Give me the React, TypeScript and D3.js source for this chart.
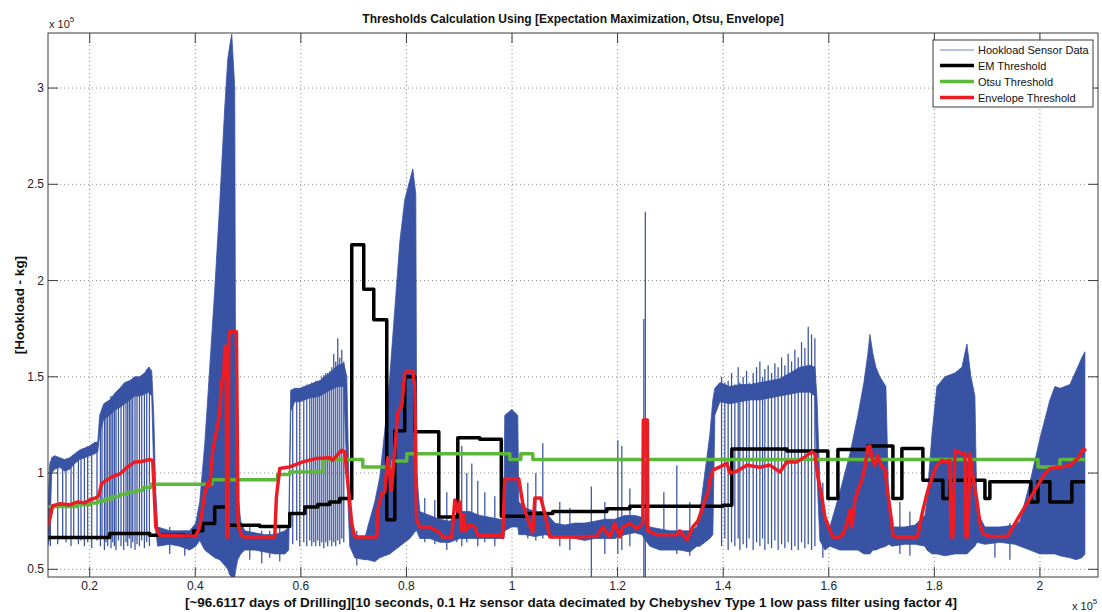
import React from "react";
import * as d3 from "d3";

// ---------- axis ticks ----------
const xTicks = [0.2, 0.4, 0.6, 0.8, 1, 1.2, 1.4, 1.6, 1.8, 2];
const xTickLabels = ["0.2", "0.4", "0.6", "0.8", "1", "1.2", "1.4", "1.6", "1.8", "2"];
const yTicks = [0.5, 1, 1.5, 2, 2.5, 3];
const yTickLabels = ["0.5", "1", "1.5", "2", "2.5", "3"];

// ---------- Hookload sensor data (x 1e5 samples, kg x 1e5): dense band lower / upper ----------
const sensorX = [0.1204, 0.1242, 0.128, 0.1337, 0.1432, 0.1526, 0.1621, 0.1716, 0.1811, 0.1905, 0.2, 0.2095, 0.2152, 0.2189, 0.2265, 0.2379, 0.2493, 0.2568, 0.2663, 0.2758, 0.2853, 0.2947, 0.3042, 0.3118, 0.3175, 0.3213, 0.3251, 0.3288, 0.3516, 0.3705, 0.3895, 0.4008, 0.4084, 0.4179, 0.4274, 0.4368, 0.4463, 0.4558, 0.4615, 0.4653, 0.4691, 0.4728, 0.4747, 0.4766, 0.4804, 0.4861, 0.4937, 0.5126, 0.5316, 0.5505, 0.5695, 0.577, 0.5808, 0.5884, 0.5979, 0.6168, 0.6358, 0.6547, 0.6699, 0.6813, 0.687, 0.6926, 0.7021, 0.721, 0.7267, 0.74, 0.7495, 0.7589, 0.7684, 0.7779, 0.7874, 0.7968, 0.8063, 0.812, 0.8177, 0.8196, 0.8253, 0.8442, 0.8632, 0.8821, 0.901, 0.92, 0.9389, 0.9579, 0.9768, 0.9844, 0.9863, 0.9996, 1.0109, 1.0128, 1.0242, 1.0432, 1.0621, 1.081, 1.1, 1.1189, 1.1379, 1.1568, 1.1758, 1.1947, 1.2137, 1.2326, 1.2459, 1.261, 1.28, 1.2989, 1.3179, 1.3368, 1.3501, 1.3558, 1.3653, 1.3747, 1.3804, 1.3842, 1.3937, 1.4126, 1.4316, 1.4505, 1.4695, 1.4884, 1.5074, 1.5263, 1.5452, 1.5642, 1.5737, 1.5775, 1.5831, 1.5926, 1.6021, 1.621, 1.64, 1.6552, 1.6665, 1.6741, 1.6779, 1.6836, 1.6893, 1.6968, 1.7082, 1.7139, 1.7196, 1.7442, 1.7632, 1.7821, 1.7859, 1.7954, 1.8048, 1.82, 1.839, 1.8522, 1.8617, 1.8693, 1.8768, 1.8806, 1.8958, 1.9242, 1.9526, 1.9621, 1.981, 2.0, 2.0189, 2.0284, 2.0379, 2.0568, 2.0682, 2.0795, 2.0852];
const sensorLo = [0.62, 0.66, 1.0, 1.02, 1.03, 1.01, 1.02, 1.05, 1.07, 1.08, 1.09, 1.1, 1.11, 1.2, 1.28, 1.3, 1.33, 1.34, 1.36, 1.38, 1.4, 1.4, 1.41, 1.42, 1.4, 1.0, 0.7, 0.62, 0.63, 0.62, 0.6, 0.62, 0.65, 0.6, 0.58, 0.56, 0.55, 0.52, 0.5, 0.47, 0.46, 0.46, 0.46, 0.5, 0.55, 0.58, 0.6, 0.6, 0.59, 0.58, 0.58, 0.6, 1.32, 1.37, 1.37, 1.39, 1.4, 1.43, 1.45, 1.45, 1.0, 0.62, 0.56, 0.55, 0.55, 0.54, 0.56, 0.57, 0.58, 0.6, 0.62, 0.64, 0.66, 0.68, 0.7, 0.7, 0.66, 0.66, 0.64, 0.64, 0.66, 0.66, 0.66, 0.66, 0.66, 0.66, 0.7, 0.72, 0.72, 0.68, 0.68, 0.67, 0.68, 0.67, 0.67, 0.66, 0.65, 0.66, 0.66, 0.66, 0.68, 0.69, 0.68, 0.62, 0.6, 0.6, 0.6, 0.59, 0.62, 0.62, 0.64, 0.66, 0.68, 1.3, 1.37, 1.36, 1.37, 1.38, 1.38, 1.39, 1.4, 1.41, 1.42, 1.42, 1.4, 1.0, 0.65, 0.6, 0.62, 0.6, 0.6, 0.6, 0.58, 0.58, 0.58, 0.6, 0.6, 0.61, 0.62, 0.63, 0.62, 0.63, 0.63, 0.62, 0.6, 0.58, 0.58, 0.57, 0.58, 0.58, 0.58, 0.6, 0.62, 0.64, 0.63, 0.64, 0.63, 0.62, 0.6, 0.58, 0.58, 0.58, 0.57, 0.56, 0.55, 0.56, 0.58];
const sensorHi = [0.8, 1.04, 1.08, 1.09, 1.08, 1.07, 1.08, 1.1, 1.12, 1.13, 1.14, 1.16, 1.16, 1.3, 1.36, 1.38, 1.42, 1.44, 1.47, 1.48, 1.5, 1.5, 1.52, 1.55, 1.53, 1.3, 0.9, 0.72, 0.7, 0.7, 0.7, 0.74, 0.85, 1.15, 1.55, 1.95, 2.4, 2.9, 3.15, 3.22, 3.28, 3.1, 3.0, 1.2, 0.9, 0.75, 0.7, 0.69, 0.68, 0.68, 0.7, 0.72, 1.43, 1.44, 1.44, 1.46, 1.48, 1.52, 1.56, 1.57, 1.5, 0.75, 0.68, 0.66, 0.72, 0.85, 0.98, 1.22, 1.5, 1.85, 2.2, 2.42, 2.52, 2.58, 2.45, 1.0, 0.8, 0.78, 0.76, 0.75, 0.8, 0.8, 0.78, 0.77, 0.76, 0.76, 1.3, 1.33, 1.3, 0.85, 0.82, 0.8, 0.8, 0.74, 0.73, 0.74, 0.74, 0.75, 0.76, 0.76, 0.78, 0.78, 0.77, 0.72, 0.71, 0.7, 0.7, 0.7, 0.72, 0.8, 1.0, 1.2, 1.38, 1.44, 1.47, 1.45, 1.46, 1.46, 1.47, 1.48, 1.49, 1.52, 1.55, 1.56, 1.55, 1.4, 0.95, 0.75, 0.72, 0.9, 1.1, 1.3, 1.47, 1.62, 1.72, 1.62, 1.55, 1.5, 1.45, 0.8, 0.72, 0.72, 0.73, 0.78, 0.85, 1.2, 1.45, 1.5, 1.52, 1.55, 1.67, 1.5, 1.4, 0.8, 0.72, 0.72, 0.73, 0.75, 0.95, 1.18, 1.38, 1.45, 1.44, 1.46, 1.53, 1.6, 1.63];

// ---------- Hookload sensor data: individual excursions (x, bottom, top) ----------
const spikeX = [0.1255, 0.1394, 0.1488, 0.1551, 0.1646, 0.1697, 0.1786, 0.1835, 0.19, 0.1962, 0.2038, 0.2138, 0.2203, 0.2233, 0.2279, 0.2309, 0.2341, 0.2379, 0.2404, 0.2436, 0.2468, 0.2498, 0.2544, 0.2593, 0.2644, 0.2688, 0.272, 0.2752, 0.2783, 0.2815, 0.2858, 0.2896, 0.2942, 0.2985, 0.3036, 0.308, 0.3131,
  0.3516, 0.38, 0.5032, 0.5259, 0.541, 0.56,
  0.5846, 0.5922, 0.5979, 0.6055, 0.6112, 0.6168, 0.6206, 0.6244, 0.6282, 0.632, 0.6358, 0.6396, 0.6434, 0.6472, 0.6509, 0.6547, 0.6585, 0.6623, 0.6661, 0.6699, 0.6737, 0.6775, 0.6813, 0.7059,
  0.8347, 0.8537, 0.8764, 0.8954, 0.9048, 0.9143, 0.9238, 0.9351, 0.9484, 0.9674, 1.0299, 1.0451, 1.0583, 1.0905, 1.1095, 1.1502, 1.1758, 1.2004, 1.208, 1.2232, 1.2497, 1.2525, 1.2876, 1.3122, 1.3368,
  1.3969, 1.4031, 1.4094, 1.4158, 1.4221, 1.4284, 1.4316, 1.4378, 1.4443, 1.4492, 1.4568, 1.4632, 1.4695, 1.4746, 1.4789, 1.4852, 1.4916, 1.4979, 1.5041, 1.5106, 1.5168, 1.5231, 1.5295, 1.5358, 1.5421, 1.5484, 1.5547, 1.5611, 1.5674, 1.5737,
  1.5888, 1.7347, 1.7537, 1.9147, 1.9431];
const spikeLo = [0.62, 0.63, 0.66, 0.64, 0.62, 0.66, 0.63, 0.65, 0.62, 0.64, 0.61, 0.65, 0.62, 0.66, 0.6, 0.64, 0.62, 0.66, 0.61, 0.64, 0.62, 0.6, 0.65, 0.62, 0.6, 0.64, 0.62, 0.66, 0.61, 0.64, 0.6, 0.63, 0.62, 0.65, 0.61, 0.64, 0.62,
  0.58, 0.57, 0.55, 0.53, 0.56, 0.54,
  0.63, 0.65, 0.62, 0.64, 0.62, 0.65, 0.62, 0.64, 0.62, 0.65, 0.62, 0.64, 0.61, 0.64, 0.62, 0.65, 0.62, 0.64, 0.62, 0.65, 0.63, 0.66, 0.64, 0.52,
  0.64, 0.63, 0.6, 0.64, 0.62, 0.64, 0.66, 0.62, 0.64, 0.62, 0.66, 0.65, 0.66, 0.62, 0.6, 0.46, 0.58, 0.58, 0.6, 0.62, 0.46, 0.46, 0.6, 0.58, 0.57,
  0.62, 0.66, 0.6, 0.64, 0.62, 0.66, 0.6, 0.63, 0.61, 0.66, 0.6, 0.64, 0.62, 0.66, 0.6, 0.63, 0.61, 0.65, 0.6, 0.63, 0.61, 0.64, 0.6, 0.62, 0.6, 0.64, 0.61, 0.63, 0.6, 0.62,
  0.56, 0.58, 0.57, 0.56, 0.55];
const spikeHi = [1.06, 1.08, 1.07, 1.07, 1.08, 1.09, 1.11, 1.12, 1.13, 1.14, 1.15, 1.16, 1.3, 1.33, 1.35, 1.36, 1.37, 1.38, 1.4, 1.4, 1.41, 1.42, 1.43, 1.44, 1.46, 1.47, 1.47, 1.48, 1.48, 1.49, 1.5, 1.5, 1.5, 1.51, 1.52, 1.54, 1.55,
  0.72, 0.7, 0.72, 0.7, 0.7, 0.72,
  1.43, 1.44, 1.44, 1.45, 1.46, 1.46, 1.47, 1.47, 1.48, 1.48, 1.48, 1.5, 1.51, 1.52, 1.52, 1.53, 1.55, 1.62, 1.58, 1.7, 1.6, 1.64, 1.58, 0.7,
  0.87, 0.86, 0.9, 1.08, 1.14, 1.0, 1.05, 0.96, 0.9, 0.88, 0.95, 1.0, 1.155, 0.85, 0.82, 0.93, 0.85, 1.17, 1.14, 0.92, 1.8, 2.357, 0.9, 1.04, 0.85,
  1.5, 1.47, 1.48, 1.52, 1.46, 1.55, 1.47, 1.5, 1.53, 1.47, 1.52, 1.55, 1.58, 1.5, 1.54, 1.56, 1.52, 1.57, 1.55, 1.6, 1.56, 1.62, 1.58, 1.64, 1.6, 1.68, 1.65, 1.76, 1.72, 1.7,
  0.95, 0.85, 0.8, 0.72, 0.74];

// ---------- EM threshold (step, value holds until next x) ----------
const emX = [0.1204, 0.2379, 0.3137, 0.38, 0.397, 0.4141, 0.4368, 0.4615, 0.5221, 0.5789, 0.6074, 0.632, 0.6547, 0.6737, 0.6964, 0.7191, 0.7381, 0.7627, 0.7779, 0.7968, 0.8158, 0.8613, 0.8973, 0.9389, 0.9797, 1.028, 1.0773, 1.1796, 1.2232, 1.3994, 1.4164, 1.5206, 1.5983, 1.6173, 1.6741, 1.7215, 1.7385, 1.7783, 1.8162, 1.8295, 1.8958, 1.9052, 1.9829, 1.9962, 2.0189, 2.0606, 2.0852];
const emY = [0.665, 0.686, 0.677, 0.672, 0.7, 0.738, 0.824, 0.729, 0.722, 0.79, 0.824, 0.836, 0.85, 0.868, 2.186, 1.955, 1.797, 0.758, 1.22, 1.5, 1.214, 0.772, 1.183, 1.175, 0.776, 0.79, 0.8, 0.815, 0.828, 0.833, 1.125, 1.115, 0.868, 1.122, 1.14, 0.868, 1.128, 0.963, 0.868, 0.963, 0.868, 0.955, 0.85, 0.955, 0.85, 0.955, 0.955];

// ---------- Otsu threshold (step) ----------
const otsuX = [0.1204, 0.1773, 0.2, 0.2152, 0.2284, 0.2417, 0.2568, 0.272, 0.2872, 0.3004, 0.3156, 0.4312, 0.5562, 0.5789, 0.6415, 0.7173, 0.7741, 0.8006, 0.9958, 1.0166, 1.0394, 1.9962, 2.0379, 2.0852];
const otsuY = [0.826, 0.835, 0.845, 0.855, 0.865, 0.878, 0.89, 0.9, 0.91, 0.925, 0.942, 0.965, 0.993, 1.005, 1.07, 1.032, 1.062, 1.1, 1.07, 1.1, 1.07, 1.032, 1.07, 1.07];

// ---------- Envelope threshold ----------
const envX = [0.1204, 0.1242, 0.1299, 0.1432, 0.1621, 0.1773, 0.1905, 0.2, 0.2152, 0.2189, 0.2227, 0.2417, 0.2568, 0.272, 0.2853, 0.2985, 0.3137, 0.3194, 0.3251, 0.3326, 0.4008, 0.4084, 0.4179, 0.4236, 0.4274, 0.433, 0.4406, 0.4463, 0.4495, 0.4539, 0.4558, 0.4586, 0.4596, 0.4624, 0.4634, 0.4653, 0.4779, 0.481, 0.4874, 0.4937, 0.5505, 0.5537, 0.56, 0.5789, 0.6036, 0.6301, 0.6547, 0.6604, 0.6775, 0.6832, 0.6889, 0.6964, 0.7021, 0.7438, 0.7457, 0.7533, 0.7589, 0.7646, 0.7716, 0.7779, 0.7836, 0.7912, 0.7968, 0.8006, 0.812, 0.8158, 0.819, 0.8253, 0.8442, 0.8632, 0.8688, 0.8859, 0.8916, 0.8973, 0.901, 0.9048, 0.9086, 0.9124, 0.92, 0.9295, 0.9351, 0.9768, 0.9825, 0.9863, 1.0128, 1.0204, 1.0299, 1.0394, 1.0432, 1.0545, 1.0621, 1.0716, 1.1227, 1.1606, 1.172, 1.1853, 1.1947, 1.2042, 1.2099, 1.2232, 1.2364, 1.2478, 1.2487, 1.2563, 1.2572, 1.2743, 1.3122, 1.3179, 1.3312, 1.3368, 1.3425, 1.352, 1.3596, 1.3653, 1.371, 1.3747, 1.3804, 1.3937, 1.4069, 1.4126, 1.4259, 1.4448, 1.4695, 1.4884, 1.5074, 1.5206, 1.5396, 1.5547, 1.568, 1.5737, 1.5794, 1.5869, 1.5926, 1.6021, 1.6078, 1.621, 1.6267, 1.6343, 1.64, 1.6438, 1.6495, 1.6552, 1.6628, 1.6684, 1.6741, 1.6779, 1.6817, 1.6874, 1.6931, 1.7006, 1.7063, 1.712, 1.7196, 1.7215, 1.7291, 1.767, 1.7689, 1.7783, 1.7878, 1.7973, 1.8048, 1.8143, 1.82, 1.8295, 1.8314, 1.8352, 1.839, 1.8522, 1.8579, 1.8598, 1.8636, 1.8674, 1.8731, 1.8806, 1.8863, 1.892, 1.9052, 1.9375, 1.9431, 1.9564, 1.9754, 1.9943, 2.0095, 2.0189, 2.0379, 2.0568, 2.072, 2.0814, 2.0852];
const envY = [0.72, 0.76, 0.83, 0.84, 0.835, 0.85, 0.845, 0.86, 0.875, 0.9, 0.946, 0.98, 0.995, 1.032, 1.058, 1.06, 1.07, 1.065, 0.72, 0.677, 0.672, 0.72, 0.894, 0.95, 0.93, 1.119, 1.223, 1.31, 1.474, 1.5, 1.656, 1.66, 0.668, 0.668, 1.7, 1.734, 1.734, 0.738, 0.677, 0.668, 0.668, 0.876, 1.024, 1.032, 1.058, 1.076, 1.08, 1.067, 1.119, 1.11, 0.95, 0.738, 0.668, 0.668, 0.807, 0.894, 0.9, 1.08, 0.91, 1.119, 1.315, 1.35, 1.518, 1.53, 1.53, 1.45, 0.76, 0.72, 0.72, 0.69, 0.668, 0.668, 0.86, 0.8, 0.85, 0.7, 0.78, 0.7, 0.73, 0.72, 0.677, 0.677, 0.665, 0.97, 0.97, 0.842, 0.76, 0.69, 0.87, 0.87, 0.79, 0.668, 0.668, 0.672, 0.72, 0.668, 0.738, 0.668, 0.72, 0.738, 0.71, 0.74, 1.275, 1.275, 0.7, 0.68, 0.68, 0.7, 0.651, 0.686, 0.72, 0.75, 0.807, 0.859, 0.894, 0.963, 1.015, 1.032, 1.05, 1.0, 1.01, 1.04, 1.03, 1.041, 1.006, 1.058, 1.058, 1.084, 1.11, 1.1, 0.98, 0.876, 0.772, 0.703, 0.668, 0.668, 0.68, 0.738, 0.807, 0.72, 0.859, 0.911, 0.963, 1.032, 1.136, 1.14, 1.08, 1.04, 1.09, 1.032, 1.02, 0.894, 0.738, 0.675, 0.668, 0.668, 0.68, 0.807, 0.911, 0.989, 1.04, 1.067, 1.06, 1.067, 0.668, 0.668, 1.119, 1.1, 1.1, 0.668, 0.668, 1.1, 0.98, 0.859, 0.738, 0.686, 0.67, 0.67, 0.69, 0.755, 0.842, 0.928, 0.998, 1.024, 1.03, 1.04, 1.076, 1.122, 1.12];

const legendLabels = ["Hookload Sensor Data", "EM Threshold", "Otsu Threshold", "Envelope Threshold"];
const legendColors = ["#3953a4", "#000000", "#5cb83a", "#ec1c24"];

const W = 1102;
const H = 612;
const L = 48, R = 1098, T = 33, B = 577;
const FONT = "'Liberation Sans', Arial, Helvetica, sans-serif";

export default function App() {
  const x = d3.scaleLinear().domain([0.121, 2.11]).range([L, R]);
  const y = d3.scaleLinear().domain([0.46, 3.286]).range([B, T]);

  const idx = (n: number) => d3.range(n);

  const band = d3
    .area<number>()
    .x((i) => x(sensorX[i]))
    .y0((i) => y(sensorLo[i]))
    .y1((i) => y(sensorHi[i]))(idx(sensorX.length)) as string;

  const emPath = d3
    .line<number>()
    .x((i) => x(emX[i]))
    .y((i) => y(emY[i]))
    .curve(d3.curveStepAfter)(idx(emX.length)) as string;

  const otsuPath = d3
    .line<number>()
    .x((i) => x(otsuX[i]))
    .y((i) => y(otsuY[i]))
    .curve(d3.curveStepAfter)(idx(otsuX.length)) as string;

  const envPath = d3
    .line<number>()
    .x((i) => x(envX[i]))
    .y((i) => y(envY[i]))(idx(envX.length)) as string;

  const tickLen = 10;
  const axisColor = "#3c3c3c";
  const gridColor = "#8a8a8a";
  const blue = "#3953a4";

  const legX = 933, legY = 40, legW = 160, legH = 67;
  const legRows = [50, 65.5, 81.5, 97.5];

  return (
    <div style={{ position: "absolute", left: 0, top: 0, width: W, height: H, background: "#fff" }}>
      <svg width={W} height={H} style={{ display: "block" }} fontFamily={FONT}>
        <rect x={0} y={0} width={W} height={H} fill="#fff" />
        <defs>
          <clipPath id="plotClip">
            <rect x={L} y={T} width={R - L} height={B - T} />
          </clipPath>
        </defs>

        {/* grid */}
        <g stroke={gridColor} strokeWidth={1} strokeDasharray="1 3">
          {xTicks.map((t, i) => (
            <line key={"gx" + i} x1={x(t)} x2={x(t)} y1={T} y2={B} />
          ))}
          {yTicks.map((t, i) => (
            <line key={"gy" + i} x1={L} x2={R} y1={y(t)} y2={y(t)} />
          ))}
        </g>

        <g clipPath="url(#plotClip)">
          {/* sensor data */}
          <path d={band} fill={blue} stroke={blue} strokeWidth={0.8} />
          <g stroke={blue} strokeWidth={1.25}>
            {spikeX.map((sx, i) => (
              <line key={"s" + i} x1={x(sx)} x2={x(sx)} y1={y(spikeLo[i])} y2={y(spikeHi[i])} />
            ))}
          </g>
          {/* thresholds */}
          <path d={emPath} fill="none" stroke="#000" strokeWidth={3.5} strokeLinejoin="round" />
          <path d={otsuPath} fill="none" stroke="#5cb83a" strokeWidth={3.5} strokeLinejoin="round" />
          <path d={envPath} fill="none" stroke="#ec1c24" strokeWidth={3.5} strokeLinejoin="round" strokeLinecap="round" />
        </g>

        {/* axes box */}
        <rect x={L} y={T} width={R - L} height={B - T} fill="none" stroke={axisColor} strokeWidth={1} />
        <g stroke={axisColor} strokeWidth={1}>
          {xTicks.map((t, i) => (
            <g key={"tx" + i}>
              <line x1={x(t)} x2={x(t)} y1={B} y2={B - tickLen} />
              <line x1={x(t)} x2={x(t)} y1={T} y2={T + tickLen} />
            </g>
          ))}
          {yTicks.map((t, i) => (
            <g key={"ty" + i}>
              <line x1={L} x2={L + tickLen} y1={y(t)} y2={y(t)} />
              <line x1={R} x2={R - tickLen} y1={y(t)} y2={y(t)} />
            </g>
          ))}
        </g>

        {/* tick labels */}
        <g fontSize={12} fill="#222">
          {xTicks.map((t, i) => (
            <text key={"lx" + i} x={x(t)} y={590} textAnchor="middle">
              {xTickLabels[i]}
            </text>
          ))}
          {yTicks.map((t, i) => (
            <text key={"ly" + i} x={44} y={y(t) + 4} textAnchor="end">
              {yTickLabels[i]}
            </text>
          ))}
        </g>

        {/* exponent labels */}
        <text x={49} y={28} fontSize={11} fill="#222">
          x 10<tspan dy={-6} fontSize={8}>5</tspan>
        </text>
        <text x={1072} y={610} fontSize={11} fill="#222">
          x 10<tspan dy={-6} fontSize={8}>5</tspan>
        </text>

        {/* title & labels */}
        <text x={573} y={23} textAnchor="middle" fontSize={12} fontWeight="bold" fill="#111">
          Thresholds Calculation Using [Expectation Maximization, Otsu, Envelope]
        </text>
        <text x={571} y={607} textAnchor="middle" fontSize={13.5} fontWeight="bold" fill="#111">
          [~96.6117 days of Drilling][10 seconds, 0.1 Hz sensor data decimated by Chebyshev Type 1 low pass filter using factor 4]
        </text>
        <text transform={`translate(24, 305) rotate(-90)`} textAnchor="middle" fontSize={13.5} fontWeight="bold" fill="#111">
          [Hookload - kg]
        </text>

        {/* legend */}
        <rect x={legX} y={legY} width={legW} height={legH} fill="#fff" stroke={axisColor} strokeWidth={1} />
        {legendLabels.map((lab, i) => (
          <g key={"lg" + i}>
            <line
              x1={940}
              x2={974}
              y1={legRows[i]}
              y2={legRows[i]}
              stroke={legendColors[i]}
              strokeWidth={i === 0 ? 1 : 3.5}
              opacity={i === 0 ? 0.7 : 1}
            />
            <text x={978} y={legRows[i] + 4} fontSize={11} fill="#111">
              {lab}
            </text>
          </g>
        ))}
      </svg>
    </div>
  );
}
